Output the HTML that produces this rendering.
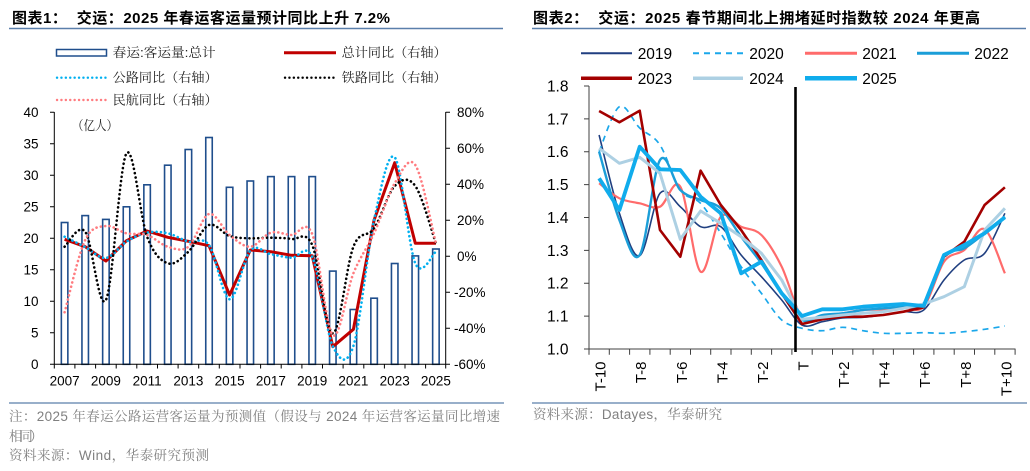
<!DOCTYPE html>
<html><head><meta charset="utf-8">
<style>
html,body{margin:0;padding:0;background:#fff;}
svg{display:block;}
.t{font-family:"Liberation Sans","Noto Sans CJK SC",sans-serif;font-weight:700;font-size:15px;fill:#000;white-space:pre;}
.lg{font-family:"Liberation Sans","Noto Serif CJK SC",serif;font-size:13px;fill:#222;}
.ax{font-family:"Liberation Sans",sans-serif;font-size:13.5px;fill:#000;}
.ax2{font-family:"Liberation Sans",sans-serif;font-size:15.5px;fill:#000;}
.rl{font-family:"Liberation Sans",sans-serif;font-size:15px;fill:#000;}
.ft{font-family:"Liberation Sans","Noto Serif CJK SC",serif;font-size:13.5px;fill:#808080;}
</style></head>
<body>
<svg width="1030" height="471" viewBox="0 0 1030 471" xmlns="http://www.w3.org/2000/svg">
<rect width="1030" height="471" fill="#fff"/>
<!-- Titles -->
<text class="t" x="12" y="23" textLength="378" lengthAdjust="spacing">图表1：  交运：2025 年春运客运量预计同比上升 7.2%</text>
<text class="t" x="533" y="23" textLength="447" lengthAdjust="spacing">图表2：  交运：2025 春节期间北上拥堵延时指数较 2024 年更高</text>
<line x1="9" y1="28.5" x2="503" y2="28.5" stroke="#5a7fab" stroke-width="1.5"/>
<line x1="532" y1="28.5" x2="1026" y2="28.5" stroke="#5a7fab" stroke-width="1.5"/>

<!-- ============ LEFT CHART ============ -->
<!-- legend -->
<rect x="56.5" y="49.5" width="50" height="6.5" fill="#fff" stroke="#1f4e8c" stroke-width="1.5"/>
<text class="lg" x="112.7" y="57" textLength="103" lengthAdjust="spacingAndGlyphs">春运:客运量:总计</text>
<line x1="284" y1="52.7" x2="336" y2="52.7" stroke="#c00000" stroke-width="3"/>
<text class="lg" x="341.7" y="57" textLength="105" lengthAdjust="spacingAndGlyphs">总计同比（右轴）</text>
<line x1="57" y1="77.7" x2="106" y2="77.7" stroke="#00b0f0" stroke-width="2.4" stroke-dasharray="0.1 4.3" stroke-linecap="round"/>
<text class="lg" x="112.7" y="82" textLength="105" lengthAdjust="spacingAndGlyphs">公路同比（右轴）</text>
<line x1="285" y1="77.7" x2="336" y2="77.7" stroke="#000" stroke-width="2.4" stroke-dasharray="0.1 4.3" stroke-linecap="round"/>
<text class="lg" x="341.7" y="82" textLength="105" lengthAdjust="spacingAndGlyphs">铁路同比（右轴）</text>
<line x1="57" y1="100" x2="106" y2="100" stroke="#ff7c80" stroke-width="2.4" stroke-dasharray="0.1 4.3" stroke-linecap="round"/>
<text class="lg" x="112.7" y="104.5" textLength="105" lengthAdjust="spacingAndGlyphs">民航同比（右轴）</text>
<text class="lg" x="72" y="130" font-size="14" textLength="46" lengthAdjust="spacingAndGlyphs">（亿人）</text>

<!-- bars -->
<g fill="#fff" stroke="#1f4e8c" stroke-width="1.6">
<rect x="61.35" y="222.5" width="6.5" height="141.8"/>
<rect x="81.95" y="215.6" width="6.5" height="148.7"/>
<rect x="102.65" y="219.4" width="6.5" height="144.9"/>
<rect x="123.25" y="206.8" width="6.5" height="157.5"/>
<rect x="143.85" y="184.8" width="6.5" height="179.5"/>
<rect x="164.55" y="165.2" width="6.5" height="199.1"/>
<rect x="185.15" y="149.5" width="6.5" height="214.8"/>
<rect x="205.75" y="137.5" width="6.5" height="226.8"/>
<rect x="226.35" y="187.3" width="6.5" height="177"/>
<rect x="247.05" y="181.0" width="6.5" height="183.3"/>
<rect x="267.65" y="176.6" width="6.5" height="187.7"/>
<rect x="288.25" y="176.6" width="6.5" height="187.7"/>
<rect x="308.95" y="176.6" width="6.5" height="187.7"/>
<rect x="329.55" y="271.1" width="6.5" height="93.2"/>
<rect x="350.15" y="309.5" width="6.5" height="54.8"/>
<rect x="370.85" y="298.2" width="6.5" height="66.1"/>
<rect x="391.45" y="263.5" width="6.5" height="100.8"/>
<rect x="412.05" y="255.9" width="6.5" height="108.4"/>
<rect x="432.65" y="249.0" width="6.5" height="115.3"/>
</g>

<!-- axes -->
<g stroke="#000" stroke-width="1" fill="none">
<line x1="54.3" y1="112" x2="54.3" y2="364.3"/>
<line x1="445.7" y1="112" x2="445.7" y2="364.3"/>
<line x1="54.3" y1="364.3" x2="445.7" y2="364.3"/>
<path d="M50 112.3H54.3M50 143.8H54.3M50 175.3H54.3M50 206.8H54.3M50 238.3H54.3M50 269.8H54.3M50 301.3H54.3M50 332.8H54.3M50 364.3H54.3"/>
<path d="M445.7 112.3H450M445.7 148.3H450M445.7 184.3H450M445.7 220.3H450M445.7 256.3H450M445.7 292.3H450M445.7 328.3H450M445.7 364.3H450"/>
<path d="M54.3 364.3V368.5M74.9 364.3V368.5M95.6 364.3V368.5M116.2 364.3V368.5M136.8 364.3V368.5M157.5 364.3V368.5M178.1 364.3V368.5M198.7 364.3V368.5M219.3 364.3V368.5M240 364.3V368.5M260.6 364.3V368.5M281.2 364.3V368.5M301.9 364.3V368.5M322.5 364.3V368.5M343.1 364.3V368.5M363.8 364.3V368.5M384.4 364.3V368.5M405 364.3V368.5M425.6 364.3V368.5M445.7 364.3V368.5"/>
</g>
<g class="ax" text-anchor="end">
<text x="38.5" y="117">40</text>
<text x="38.5" y="148.5">35</text>
<text x="38.5" y="180">30</text>
<text x="38.5" y="211.5">25</text>
<text x="38.5" y="243">20</text>
<text x="38.5" y="274.5">15</text>
<text x="38.5" y="306">10</text>
<text x="38.5" y="337.5">5</text>
<text x="38.5" y="369">0</text>
</g>
<g class="ax">
<text x="457" y="117">80%</text>
<text x="457" y="153">60%</text>
<text x="457" y="189">40%</text>
<text x="457" y="225">20%</text>
<text x="457" y="261">0%</text>
<text x="454" y="297">-20%</text>
<text x="454" y="333">-40%</text>
<text x="454" y="369">-60%</text>
</g>
<g class="ax" text-anchor="middle">
<text x="64.6" y="385.5">2007</text>
<text x="105.9" y="385.5">2009</text>
<text x="147.1" y="385.5">2011</text>
<text x="188.4" y="385.5">2013</text>
<text x="229.6" y="385.5">2015</text>
<text x="270.9" y="385.5">2017</text>
<text x="312.2" y="385.5">2019</text>
<text x="353.4" y="385.5">2021</text>
<text x="394.7" y="385.5">2023</text>
<text x="435.9" y="385.5">2025</text>
</g>

<!-- left series -->
<polyline fill="none" stroke="#c00000" stroke-width="3" stroke-linejoin="round" points="64.6,239.3 85.2,246.7 105.9,261 126.5,240.7 147.1,231 167.8,237.3 188.4,241.3 209,245.7 229.6,295 250.3,250 270.9,251.7 291.5,255.3 312.2,255.7 332.8,346.7 353.4,329.3 374.1,220 394.7,162.7 415.3,243.3 435.9,243.3"/>
<polyline class="s" fill="none" stroke="#00b0f0" stroke-width="2.6" stroke-dasharray="0.1 4.3" stroke-linecap="round" points="64.6,236.7 85.2,247 105.9,258 126.5,241.6 147.1,232.6 167.8,233.3 188.4,241.6 209,245.2 229.6,299.3 250.3,250.6 270.9,254.2 291.5,257.8 312.2,256.9 332.8,346 353.4,346 374.1,220 394.7,157.3 415.3,263.3 435.9,251.7"/>
<polyline class="s" fill="none" stroke="#000" stroke-width="2.6" stroke-dasharray="0.1 4.3" stroke-linecap="round" points="64.6,246.7 85.2,231.7 105.9,300 126.5,153.3 147.1,236.7 167.8,263.3 188.4,251.7 209,225 229.6,236 250.3,238.3 270.9,237.7 291.5,239 312.2,245 332.8,333.3 353.4,246.7 374.1,228.3 394.7,186 415.3,186 435.9,243.3"/>
<polyline class="s" fill="none" stroke="#ff7c80" stroke-width="2.6" stroke-dasharray="0.1 4.3" stroke-linecap="round" points="64.6,312.3 85.2,240 105.9,226 126.5,233.3 147.1,235 167.8,246.7 188.4,246.7 209,214 229.6,235 250.3,246.7 270.9,232.7 291.5,235 312.2,234 332.8,335 353.4,273.3 374.1,233.3 394.7,183.3 415.3,165 435.9,243.3"/>

<!-- left footer -->
<line x1="9" y1="403" x2="504" y2="403" stroke="#5a7fab" stroke-width="1.2"/>
<text class="ft" x="9" y="421" textLength="491" lengthAdjust="spacing">注：2025 年春运公路运营客运量为预测值（假设与 2024 年运营客运量同比增速</text>
<text class="ft" x="9" y="441" textLength="34" lengthAdjust="spacing">相同）</text>
<text class="ft" x="9" y="460" textLength="200" lengthAdjust="spacing">资料来源：Wind，华泰研究预测</text>

<!-- ============ RIGHT CHART ============ -->
<!-- legend -->
<line x1="581" y1="53.3" x2="632" y2="53.3" stroke="#203f80" stroke-width="2"/>
<line x1="693" y1="53.3" x2="743" y2="53.3" stroke="#1aa7ea" stroke-width="2" stroke-dasharray="6 5"/>
<line x1="805" y1="53.3" x2="857" y2="53.3" stroke="#ff6b6b" stroke-width="3"/>
<line x1="917" y1="53.3" x2="969" y2="53.3" stroke="#1b9ed8" stroke-width="3"/>
<line x1="581" y1="78.3" x2="632" y2="78.3" stroke="#a30000" stroke-width="3.5"/>
<line x1="693" y1="78.3" x2="743" y2="78.3" stroke="#add0e3" stroke-width="3.5"/>
<line x1="805" y1="78.3" x2="857" y2="78.3" stroke="#10acec" stroke-width="4.5"/>
<g class="ax2">
<text x="637.7" y="59">2019</text>
<text x="749.3" y="59">2020</text>
<text x="862.3" y="59">2021</text>
<text x="974.3" y="59">2022</text>
<text x="637.7" y="84">2023</text>
<text x="749.3" y="84">2024</text>
<text x="862.3" y="84">2025</text>
</g>

<!-- axes -->
<g stroke="#404040" stroke-width="1" fill="none">
<line x1="589" y1="86" x2="589" y2="349"/>
<line x1="589" y1="349" x2="1015.5" y2="349"/>
<path d="M584 86H589M584 118.9H589M584 151.75H589M584 184.6H589M584 217.5H589M584 250.4H589M584 283.25H589M584 316.1H589M584 349H589"/>
<path d="M589 349V354.7M609.3 349V354.7M629.6 349V354.7M649.9 349V354.7M670.2 349V354.7M690.5 349V354.7M710.7 349V354.7M731 349V354.7M751.3 349V354.7M771.6 349V354.7M791.9 349V354.7M812.2 349V354.7M832.5 349V354.7M852.8 349V354.7M873.1 349V354.7M893.4 349V354.7M913.6 349V354.7M933.9 349V354.7M954.2 349V354.7M974.5 349V354.7M994.8 349V354.7M1015.1 349V354.7"/>
</g>
<g class="ax2" text-anchor="end">
<text x="568.5" y="91.5">1.8</text>
<text x="568.5" y="124.4">1.7</text>
<text x="568.5" y="157.2">1.6</text>
<text x="568.5" y="190.1">1.5</text>
<text x="568.5" y="223">1.4</text>
<text x="568.5" y="255.9">1.3</text>
<text x="568.5" y="288.7">1.2</text>
<text x="568.5" y="321.6">1.1</text>
<text x="568.5" y="354.5">1.0</text>
</g>
<g class="rl" text-anchor="end">
<text transform="translate(605.6,361.5) rotate(-90)">T-10</text>
<text transform="translate(646.2,361.5) rotate(-90)">T-8</text>
<text transform="translate(686.8,361.5) rotate(-90)">T-6</text>
<text transform="translate(727.3,361.5) rotate(-90)">T-4</text>
<text transform="translate(767.9,361.5) rotate(-90)">T-2</text>
<text transform="translate(808.5,361.5) rotate(-90)">T</text>
<text transform="translate(849.1,361.5) rotate(-90)">T+2</text>
<text transform="translate(889.7,361.5) rotate(-90)">T+4</text>
<text transform="translate(930.2,361.5) rotate(-90)">T+6</text>
<text transform="translate(970.8,361.5) rotate(-90)">T+8</text>
<text transform="translate(1011.4,361.5) rotate(-90)">T+10</text>
</g>

<!-- right series -->
<polyline class="s" fill="none" stroke="#203f80" stroke-width="1.6" stroke-linejoin="round" points="599.1,135 619.4,213.3 639.7,255.7 660,193.3 680.3,206.7 700.6,226.7 720.8,226.7 741.1,255 761.4,276.7 781.7,300 802,325 822.3,321.7 842.6,318 862.9,317.3 883.2,315 903.5,311.7 923.7,310 944,280 964.3,260 984.6,253.3 1004.9,213.3"/>
<polyline class="s" fill="none" stroke="#1aa7ea" stroke-width="1.7" stroke-dasharray="6 5" points="599.1,151.7 619.4,106.7 639.7,128 660,145 680.3,190 700.6,203.3 720.8,233.3 741.1,266.7 761.4,293.3 781.7,320 802,328.3 822.3,330.7 842.6,327.3 862.9,330.7 883.2,333.3 903.5,333.3 923.7,332.7 944,333.3 964.3,331.7 984.6,329.3 1004.9,326"/>
<polyline class="s" fill="none" stroke="#ff6b6b" stroke-width="2.2" stroke-linejoin="round" points="599.1,183.3 619.4,198.3 639.7,203.3 660,206.7 680.3,186.7 700.6,271.7 720.8,216.7 741.1,226.7 761.4,235 781.7,266.7 802,317.3 822.3,316.7 842.6,313.3 862.9,310 883.2,309.3 903.5,306.7 923.7,306.7 944,261.7 964.3,250 984.6,229.3 1004.9,273.3"/>
<polyline class="s" fill="none" stroke="#1b9ed8" stroke-width="2.4" stroke-linejoin="round" points="599.1,151.7 619.4,220 639.7,255 660,160 680.3,190 700.6,200 720.8,208.3 741.1,236.7 761.4,263.3 781.7,293.3 802,320 822.3,315 842.6,313.3 862.9,310 883.2,308.3 903.5,306.7 923.7,303.3 944,256.7 964.3,248.3 984.6,233.3 1004.9,216.7"/>
<polyline fill="none" stroke="#a30000" stroke-width="2.6" stroke-linejoin="round" points="599.1,111 619.4,122.3 639.7,110.7 660,230 680.3,256.7 700.6,170.7 720.8,205 741.1,230 761.4,260 781.7,293.3 802,324 822.3,319.3 842.6,316.7 862.9,316.7 883.2,315 903.5,311.7 923.7,307.3 944,256.7 964.3,241.7 984.6,205 1004.9,187.3"/>
<polyline fill="none" stroke="#add0e3" stroke-width="3" stroke-linejoin="round" points="599.1,148.3 619.4,163.3 639.7,157.3 660,173.3 680.3,239.3 700.6,211 720.8,223.3 741.1,236.7 761.4,253.3 781.7,280 802,319.3 822.3,317.3 842.6,315 862.9,313.3 883.2,311.7 903.5,308.3 923.7,304 944,296.7 964.3,286.7 984.6,230 1004.9,208.3"/>
<polyline fill="none" stroke="#10acec" stroke-width="3.8" stroke-linejoin="round" points="599.1,178.3 619.4,210 639.7,146.7 660,169.3 680.3,170 700.6,196.7 720.8,213.3 741.1,273.3 761.4,261.7 781.7,293.3 802,316 822.3,309.3 842.6,309.3 862.9,306.7 883.2,305.3 903.5,304 923.7,306 944,255 964.3,245 984.6,233.3 1004.9,217.3"/>

<!-- vertical T line -->
<line x1="795.5" y1="87" x2="795.5" y2="352" stroke="#000" stroke-width="2.6"/>

<!-- right footer -->
<line x1="532" y1="403" x2="1027" y2="403" stroke="#5a7fab" stroke-width="1.2"/>
<text class="ft" x="533" y="419" textLength="189" lengthAdjust="spacing">资料来源：Datayes，华泰研究</text>
</svg>
<script>
(function(){
var NS='http://www.w3.org/2000/svg';
var list=document.querySelectorAll('polyline.s');
for(var k=0;k<list.length;k++){
  var pl=list[k];
  var pts=pl.getAttribute('points').trim().split(/\s+/).map(function(p){return p.split(',').map(Number);});
  var d='M'+pts[0][0]+','+pts[0][1];
  for(var i=0;i<pts.length-1;i++){
    var p0=pts[i-1]||pts[i],p1=pts[i],p2=pts[i+1],p3=pts[i+2]||pts[i+1];
    var c1x=p1[0]+(p2[0]-p0[0])/6,c1y=p1[1]+(p2[1]-p0[1])/6;
    var c2x=p2[0]-(p3[0]-p1[0])/6,c2y=p2[1]-(p3[1]-p1[1])/6;
    d+=' C'+c1x.toFixed(2)+','+c1y.toFixed(2)+' '+c2x.toFixed(2)+','+c2y.toFixed(2)+' '+p2[0]+','+p2[1];
  }
  var path=document.createElementNS(NS,'path');
  for(var a=0;a<pl.attributes.length;a++){
    var at=pl.attributes[a];
    if(at.name!=='points'&&at.name!=='class')path.setAttribute(at.name,at.value);
  }
  path.setAttribute('d',d);
  pl.parentNode.replaceChild(path,pl);
}
})();
</script>
</body></html>
